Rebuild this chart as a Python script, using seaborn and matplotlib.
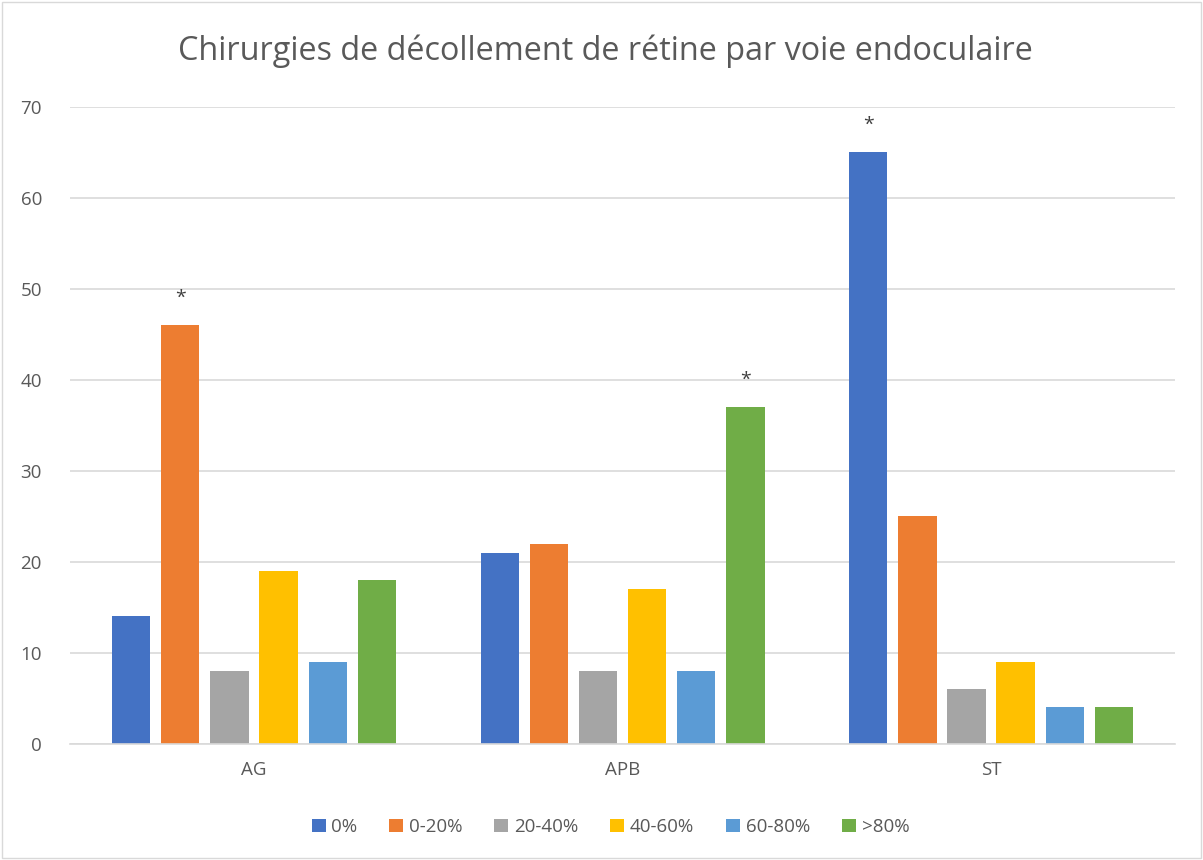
import matplotlib
matplotlib.use("Agg")
import matplotlib.pyplot as plt
import pandas as pd
import seaborn as sns

# data
categories = ["AG", "APB", "ST"]
series = ["0%", "0-20%", "20-40%", "40-60%", "60-80%", ">80%"]
vals_0 = [14, 21, 65]
vals_0_20 = [46, 22, 25]
vals_20_40 = [8, 8, 6]
vals_40_60 = [19, 17, 9]
vals_60_80 = [9, 8, 4]
vals_80 = [18, 37, 4]
# (series, category) pairs marked with an asterisk
stars = [("0-20%", "AG"), (">80%", "APB"), ("0%", "ST")]

colors = ["#4472C4", "#ED7D31", "#A5A5A5", "#FFC000", "#5B9BD5", "#70AD47"]
text_col = "#595959"

all_vals = [vals_0, vals_0_20, vals_20_40, vals_40_60, vals_60_80, vals_80]
rows = []
for s, vals in zip(series, all_vals):
    for c, v in zip(categories, vals):
        rows.append({"cat": c, "serie": s, "val": v})
df = pd.DataFrame(rows)

sns.set_style("white")
plt.rcParams["font.family"] = ["Open Sans", "DejaVu Sans"]

fig = plt.figure(figsize=(12.03, 8.6), dpi=100)
ax = fig.add_axes([0.058, 0.135, 0.919, 0.741])

sns.barplot(data=df, x="cat", y="val", hue="serie", order=categories,
            hue_order=series, palette=colors, width=0.8, gap=0.22,
            saturation=1, linewidth=0, ax=ax, legend=True)

ax.set_ylim(0, 70)
ax.set_yticks(range(0, 71, 10))
ax.grid(axis="y", color="#D9D9D9", linewidth=1.2)
ax.set_axisbelow(True)
for side in ["top", "right", "left"]:
    ax.spines[side].set_visible(False)
ax.spines["bottom"].set_color("#D9D9D9")
ax.spines["bottom"].set_linewidth(1.2)
ax.tick_params(length=0, labelsize=13.5, labelcolor=text_col)
ax.tick_params(axis="y", pad=20)
ax.tick_params(axis="x", pad=12)
ax.set_xlabel("")
ax.set_ylabel("")

# asterisks above significant bars
for s, c in stars:
    bar = ax.containers[series.index(s)][categories.index(c)]
    ax.text(bar.get_x() + bar.get_width() / 2, bar.get_height() + 2, "*",
            ha="center", va="bottom", fontsize=14, color="#404040")

ax.legend(loc="upper center", bbox_to_anchor=(0.489, -0.09), ncol=6,
          frameon=False, fontsize=13.5, handlelength=0.75, handleheight=0.75,
          handletextpad=0.3, columnspacing=1.7, labelcolor=text_col)

fig.suptitle("Chirurgies de décollement de rétine par voie endoculaire",
             x=0.503, y=0.96, fontsize=23.3, color=text_col)

fig.patches.append(plt.Rectangle((0.002, 0.002), 0.996, 0.996,
                                 transform=fig.transFigure, fill=False,
                                 edgecolor="#D9D9D9", linewidth=1))

fig.savefig("out.png", dpi=100)
